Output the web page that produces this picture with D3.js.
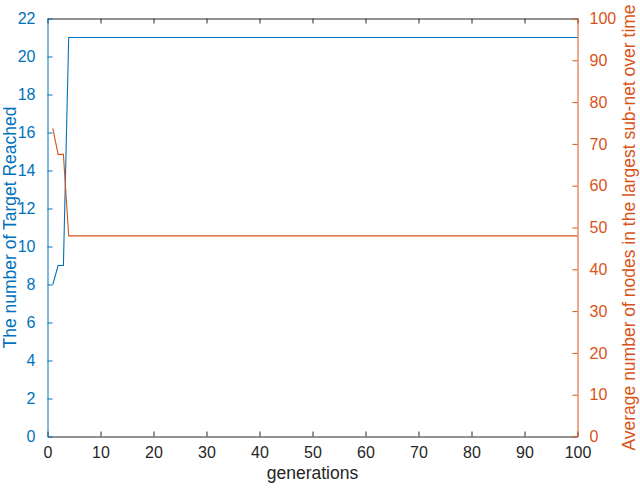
<!DOCTYPE html>
<html>
<head>
<meta charset="utf-8">
<title>Target reached vs sub-net size</title>
<script src="https://d3js.org/d3.v7.min.js"></script>
<style>
  body { margin: 0; background: #fff; }
  svg { display: block; font-family: "Liberation Sans", Arial, sans-serif; }
</style>
</head>
<body>
<script>
// generations on the x axis (1..100)
const generations = d3.range(1, 101);

// left axis series: number of targets reached
const targetReached = [
  8, 9, 9, 21, 21, 21, 21, 21, 21, 21, 21, 21, 21, 21, 21, 21, 21, 21, 21, 21,
  21, 21, 21, 21, 21, 21, 21, 21, 21, 21, 21, 21, 21, 21, 21, 21, 21, 21, 21, 21,
  21, 21, 21, 21, 21, 21, 21, 21, 21, 21, 21, 21, 21, 21, 21, 21, 21, 21, 21, 21,
  21, 21, 21, 21, 21, 21, 21, 21, 21, 21, 21, 21, 21, 21, 21, 21, 21, 21, 21, 21,
  21, 21, 21, 21, 21, 21, 21, 21, 21, 21, 21, 21, 21, 21, 21, 21, 21, 21, 21, 21
];

// right axis series: avg nodes in the largest sub-net
const avgNodes = [
  73.7, 67.5, 67.5, 48, 48, 48, 48, 48, 48, 48, 48, 48, 48, 48, 48, 48, 48, 48, 48, 48,
  48, 48, 48, 48, 48, 48, 48, 48, 48, 48, 48, 48, 48, 48, 48, 48, 48, 48, 48, 48,
  48, 48, 48, 48, 48, 48, 48, 48, 48, 48, 48, 48, 48, 48, 48, 48, 48, 48, 48, 48,
  48, 48, 48, 48, 48, 48, 48, 48, 48, 48, 48, 48, 48, 48, 48, 48, 48, 48, 48, 48,
  48, 48, 48, 48, 48, 48, 48, 48, 48, 48, 48, 48, 48, 48, 48, 48, 48, 48, 48, 48
];

// tick values
const xTicks = [0, 10, 20, 30, 40, 50, 60, 70, 80, 90, 100];
const leftTicks = [0, 2, 4, 6, 8, 10, 12, 14, 16, 18, 20, 22];
const rightTicks = [0, 10, 20, 30, 40, 50, 60, 70, 80, 90, 100];

const w = 640, h = 488;
const x0 = 47.5, x1 = 577.5, yTop = 18.5, yBot = 436.5;
const blue = "#0072BD", orange = "#D95319", dark = "#262626";
const tickLen = 5;

const svg = d3.select("body").append("svg")
  .attr("width", w)
  .attr("height", h);

const xScale = d3.scaleLinear().domain([0, 100]).range([x0, x1]);
const yLeft = d3.scaleLinear().domain([0, 22]).range([yBot, yTop]);
const yRight = d3.scaleLinear().domain([0, 100]).range([yBot, yTop]);

// bottom axis, ticks pointing inward
const xAxis = svg.append("g")
  .attr("transform", "translate(0," + yBot + ")")
  .call(d3.axisBottom(xScale).tickValues(xTicks).tickSizeInner(-tickLen).tickSizeOuter(0).tickPadding(tickLen + 5));
xAxis.select(".domain").attr("stroke", dark);
xAxis.selectAll("line").attr("stroke", dark);
xAxis.selectAll("text").attr("fill", dark).style("font-size", "16px");

// top border with mirrored ticks
const xTop = svg.append("g")
  .attr("transform", "translate(0," + yTop + ")")
  .call(d3.axisTop(xScale).tickValues(xTicks).tickSizeInner(-tickLen).tickSizeOuter(0).tickFormat(""));
xTop.select(".domain").attr("stroke", dark);
xTop.selectAll("line").attr("stroke", dark);

// left axis
const yl = svg.append("g")
  .attr("transform", "translate(" + x0 + ",0)")
  .call(d3.axisLeft(yLeft).tickValues(leftTicks).tickSizeInner(-tickLen).tickSizeOuter(0).tickPadding(tickLen + 7));
yl.select(".domain").attr("stroke", blue);
yl.selectAll("line").attr("stroke", blue);
yl.selectAll("text").attr("fill", blue).style("font-size", "16px");

// right axis
const yr = svg.append("g")
  .attr("transform", "translate(" + x1 + ",0)")
  .call(d3.axisRight(yRight).tickValues(rightTicks).tickSizeInner(-tickLen).tickSizeOuter(0).tickPadding(tickLen + 7));
yr.select(".domain").attr("stroke", orange);
yr.selectAll("line").attr("stroke", orange);
yr.selectAll("text").attr("fill", orange).style("font-size", "16px");

// data lines
const lineLeft = d3.line()
  .x((d, i) => xScale(generations[i]))
  .y(d => yLeft(d));
const lineRight = d3.line()
  .x((d, i) => xScale(generations[i]))
  .y(d => yRight(d));

svg.append("path")
  .datum(targetReached)
  .attr("fill", "none")
  .attr("stroke", blue)
  .attr("stroke-width", 1.1)
  .attr("d", lineLeft);

svg.append("path")
  .datum(avgNodes)
  .attr("fill", "none")
  .attr("stroke", orange)
  .attr("stroke-width", 1.1)
  .attr("d", lineRight);

// axis labels
svg.append("text")
  .attr("x", (x0 + x1) / 2)
  .attr("y", 479)
  .attr("text-anchor", "middle")
  .attr("fill", dark)
  .style("font-size", "17.5px")
  .text("generations");

svg.append("text")
  .attr("transform", "translate(16," + (yTop + yBot) / 2 + ") rotate(-90)")
  .attr("text-anchor", "middle")
  .attr("fill", blue)
  .style("font-size", "17.5px")
  .text("The number of Target Reached");

svg.append("text")
  .attr("transform", "translate(635," + (yTop + yBot) / 2 + ") rotate(-90)")
  .attr("text-anchor", "middle")
  .attr("fill", orange)
  .style("font-size", "17.5px")
  .text("Average number of nodes in the largest sub-net over time");
</script>
</body>
</html>
